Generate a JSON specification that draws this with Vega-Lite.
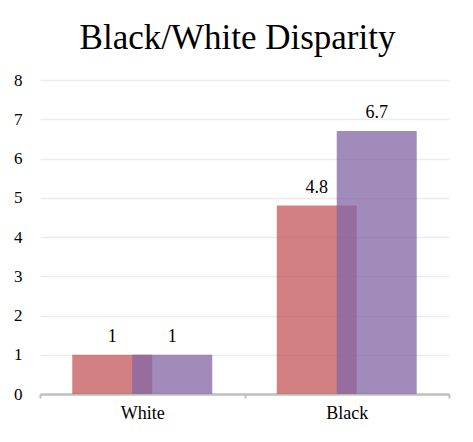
{
  "$schema": "https://vega.github.io/schema/vega-lite/v6.json",
  "config": {"font": "Liberation Serif"},
  "title": {
    "text": "Black/White Disparity",
    "font": "Liberation Serif",
    "fontSize": 35,
    "fontWeight": "normal",
    "color": "#000000",
    "anchor": "middle",
    "baseline": "alphabetic",
    "offset": -13,
    "dx": -7
  },
  "width": 409,
  "height": 314,
  "autosize": {"type": "none"},
  "padding": {"left": 40, "top": 80, "right": 24, "bottom": 48},
  "background": "#ffffff",
  "view": {"stroke": null},
  "data": {
    "values": [
      {"group": "White", "series": "Series 1", "value": 1},
      {"group": "Black", "series": "Series 1", "value": 4.8},
      {"group": "White", "series": "Series 2", "value": 1},
      {"group": "Black", "series": "Series 2", "value": 6.7}
    ]
  },
  "encoding": {
    "x": {
      "field": "group",
      "type": "nominal",
      "sort": ["White", "Black"],
      "scale": {"paddingInner": 0, "paddingOuter": 0},
      "axis": {
        "title": null,
        "labelAngle": 0,
        "labelFont": "Liberation Serif",
        "labelFontSize": 18,
        "labelColor": "#000000",
        "labelPadding": 6,
        "tickBand": "extent",
        "domainColor": "#bfbfbf",
        "domainWidth": 2.5,
        "tickColor": "#bfbfbf",
        "tickWidth": 2,
        "tickSize": 4,
        "grid": false
      }
    },
    "xOffset": {
      "field": "series",
      "type": "nominal",
      "scale": {"paddingInner": 0, "paddingOuter": 0.705}
    },
    "y": {
      "field": "value",
      "type": "quantitative",
      "scale": {"domain": [0, 8]},
      "axis": {
        "title": null,
        "values": [0, 1, 2, 3, 4, 5, 6, 7, 8],
        "labelFont": "Liberation Serif",
        "labelFontSize": 17,
        "labelColor": "#000000",
        "labelPadding": 18,
        "domain": false,
        "ticks": false,
        "grid": true,
        "gridColor": "#ebebeb",
        "gridWidth": 1.5
      }
    }
  },
  "layer": [
    {
      "mark": {"type": "bar", "opacity": 0.76, "width": 80},
      "encoding": {
        "color": {
          "field": "series",
          "type": "nominal",
          "scale": {"range": ["#C4585A", "#8467A6"]},
          "legend": null
        }
      }
    },
    {
      "mark": {
        "type": "text",
        "font": "Liberation Serif",
        "fontSize": 18,
        "color": "#000000",
        "baseline": "alphabetic",
        "dy": -13
      },
      "encoding": {
        "text": {"field": "value", "type": "quantitative"}
      }
    }
  ]
}
